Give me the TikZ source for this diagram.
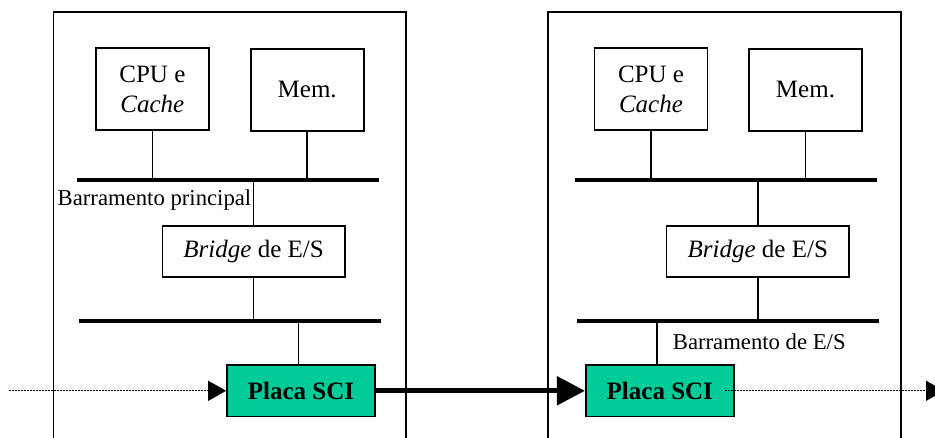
\documentclass[tikz,border=0pt]{standalone}
\usepackage{fontspec}
\setmainfont{Liberation Serif}
\usetikzlibrary{arrows.meta}
\definecolor{scigreen}{RGB}{0,204,153}
\begin{document}
\begin{tikzpicture}[x=1pt,y=-1pt,
  unit/.style={draw,line width=1.7pt,inner sep=0pt,align=center,
    font=\fontsize{25}{30}\selectfont},
  cpubox/.style={unit,minimum width=113pt,minimum height=82pt},
  bridgebox/.style={unit,minimum width=182.5pt,minimum height=51.3pt},
  scibox/.style={unit,fill=scigreen,minimum width=148pt,minimum height=51.7pt,
    font=\fontsize{25}{30}\selectfont\bfseries},
  bus/.style={line width=4.2pt},
  wire/.style={line width=1.5pt},
  frame/.style={line width=1.6pt},
  buslabel/.style={inner sep=0pt,anchor=west,font=\fontsize{22.7}{27}\selectfont},
  sciline/.style={line width=1.3pt,dash pattern=on 1.5pt off 1.5pt,
    -{Triangle[length=18pt,width=20pt]}},
  ringlink/.style={line width=5.3pt,-{Triangle[length=28pt,width=28pt]}}]
\useasboundingbox (0,0) rectangle (935,438);
\clip (0,0) rectangle (935,438);

% node enclosures (open at the bottom)
\draw[frame] (53.3,460) -- (53.3,12) -- (406,12) -- (406,460);
\draw[frame] (548,460) -- (548,12) -- (900.7,12) -- (900.7,460);

% ---- left node ----
\node[cpubox] (cpuL) at (152.4,88.9) {CPU e\\\textit{Cache}};
\node[cpubox] (memL) at (307.2,89.7) {Mem.};
\coordinate (b1La) at (77,180);
\coordinate (b1Lb) at (379,180);
\draw[bus] (b1La) -- (b1Lb);
\node[bridgebox] (brL) at (253.6,251.7) {\textit{Bridge} de E/S};
\coordinate (b2La) at (79,321);
\coordinate (b2Lb) at (380.7,321);
\draw[bus] (b2La) -- (b2Lb);
\node[scibox] (sciL) at (301,390.8) {Placa SCI};
\node[buslabel] (lblL) at (57.5,200) {Barramento principal};

\draw[wire] (cpuL.south) -- (cpuL.south |- b1La);
\draw[wire] (memL.south) -- (memL.south |- b1La);
\draw[wire] (brL.north) -- (brL.north |- b1La);
\draw[wire] (brL.south) -- (brL.south |- b2La);
\draw[wire] ([xshift=-2.7pt]sciL.north) -- ([xshift=-2.7pt]sciL.north |- b2La);

% ---- right node ----
\node[cpubox] (cpuR) at (651,89) {CPU e\\\textit{Cache}};
\node[cpubox] (memR) at (805.5,89.7) {Mem.};
\coordinate (b1Ra) at (575,180);
\coordinate (b1Rb) at (877,180);
\draw[bus] (b1Ra) -- (b1Rb);
\node[bridgebox] (brR) at (757.8,251.7) {\textit{Bridge} de E/S};
\coordinate (b2Ra) at (577.3,321);
\coordinate (b2Rb) at (878.7,321);
\draw[bus] (b2Ra) -- (b2Rb);
\node[scibox] (sciR) at (659.8,390.8) {Placa SCI};
\node[buslabel] (lblR) at (672.7,341.5) {Barramento de E/S};

\draw[wire] (cpuR.south) -- (cpuR.south |- b1Ra);
\draw[wire] (memR.south) -- (memR.south |- b1Ra);
\draw[wire] (brR.north) -- (brR.north |- b1Ra);
\draw[wire] (brR.south) -- (brR.south |- b2Ra);
\draw[wire] ([xshift=-3pt]sciR.north) -- ([xshift=-3pt]sciR.north |- b2Ra);

% ---- SCI ring links ----
\coordinate (ringIn) at (9,390.8);
\coordinate (ringOut) at (944,390.8);
\draw[sciline] (ringIn) -- (sciL.west);
\draw[ringlink] (sciL.east) -- (sciR.west);
\draw[sciline] ([xshift=-9.5pt]sciR.east) -- (ringOut);
\end{tikzpicture}
\end{document}
